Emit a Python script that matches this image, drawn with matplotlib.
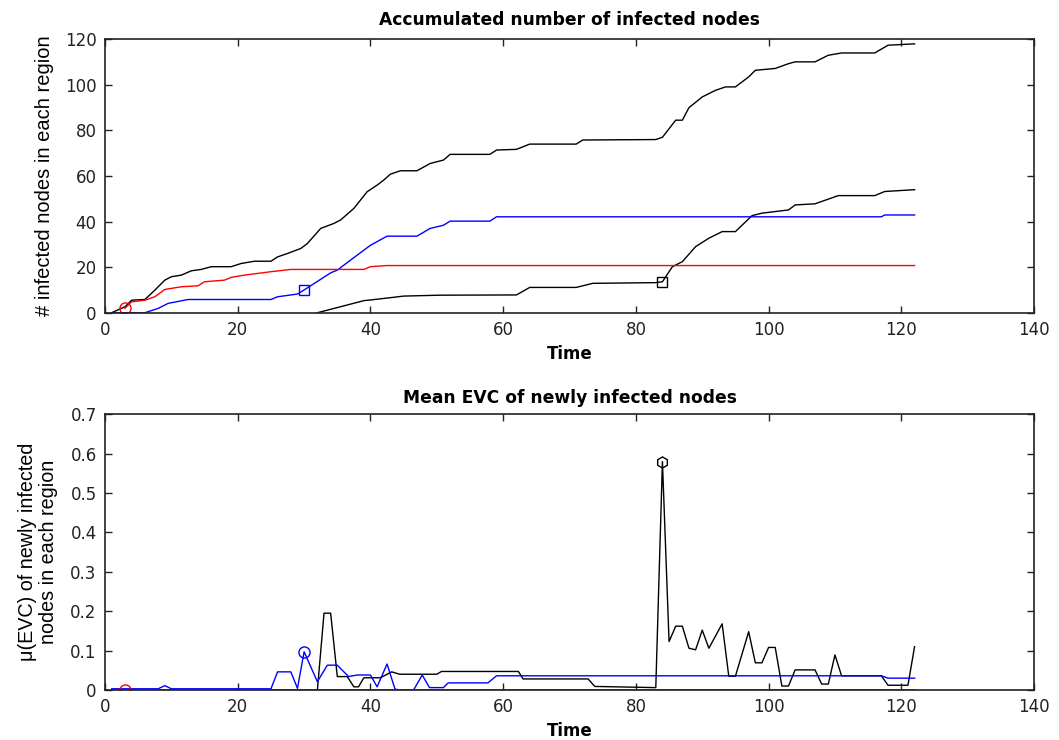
import matplotlib
matplotlib.use("Agg")
import matplotlib.pyplot as plt

# accumulated infected nodes (top panel)
t_total = [1, 3, 4, 6, 7.5, 9, 10, 11.5, 13, 14.5, 16, 19, 20.5, 22.5, 25, 26, 27.5, 29.5, 30.5, 32.5,
           34.5, 35.5, 37.5, 39.5, 41, 42, 43, 44.5, 47, 49, 51, 52, 58, 59, 62, 64, 71, 72, 83, 84,
           86, 87, 88, 90, 92, 93.5, 95, 97, 98, 101, 103, 104, 107, 109, 111, 116, 118, 122]
n_total = [0, 2.6, 5.5, 5.8, 9.9, 14.3, 15.8, 16.5, 18.4, 19, 20.2, 20.2, 21.6, 22.6, 22.6, 24.5, 26, 28.2, 30.4, 37,
           39.2, 40.7, 45.8, 53.1, 56, 58.2, 60.8, 62.3, 62.3, 65.5, 67, 69.5, 69.5, 71.4, 71.7, 74, 74, 75.8, 76, 77,
           84.5, 84.5, 90, 94.7, 97.6, 99.1, 99.1, 103.5, 106.4, 107.2, 109.3, 110.1, 110.1, 113, 114, 114, 117.4, 118]

t_black = [32, 34, 36.5, 39, 40, 43, 45, 50.5, 62, 64, 71, 73.5, 83, 84, 85.5, 87, 89, 91, 93, 95,
           97.5, 99, 103, 104, 107, 110.5, 116, 117.5, 122]
n_black = [0, 1.5, 3.4, 5.3, 5.6, 6.6, 7.3, 7.7, 7.8, 11.1, 11.1, 12.9, 13.2, 13.6, 20.2, 22.4, 29, 32.7, 35.6, 35.6,
           42.6, 43.7, 45.1, 47.3, 47.8, 51.4, 51.4, 53.2, 54]

t_blue = [1, 6, 8, 9.5, 12.5, 25, 26, 29, 30, 31.5, 34, 35, 37, 40, 42.5, 47, 49, 51, 52, 58, 59, 117, 117.5, 122]
n_blue = [0, 0, 1.9, 4.1, 5.8, 5.8, 7, 8.2, 10, 12.8, 17.5, 18.7, 23.1, 29.6, 33.6, 33.6, 37, 38.4, 40.2, 40.2,
          42.1, 42.1, 42.9, 42.9]

t_red = [3, 4, 6, 7.5, 9, 11.5, 14, 15, 18, 19, 21, 25, 28, 39, 40, 42.5, 122]
n_red = [2, 4.8, 5.5, 7, 10.2, 11.4, 11.8, 13.6, 14.3, 15.5, 16.5, 18, 19, 19, 20.2, 20.7, 20.7]

# mean EVC of newly infected nodes (bottom panel)
te_red = [3, 122]
evc_red = [0, 0]

te_blue = [1, 8, 9, 10, 25, 26, 28, 29, 30, 32, 33.5, 35, 36.7, 38, 40, 41, 42.5, 43.7, 44.5, 46.5,
           47.8, 48.9, 51, 51.7, 57.7, 59, 117, 118, 122]
evc_blue = [0.003, 0.003, 0.011, 0.003, 0.003, 0.046, 0.046, 0.004, 0.097, 0.021, 0.063, 0.063, 0.034, 0.038,
            0.038, 0.008, 0.066, 0.002, 0, 0, 0.038, 0.006, 0.006, 0.018, 0.018, 0.036, 0.036, 0.030, 0.030]

te_black = [1, 32, 33, 34, 35, 36.5, 37.5, 38.2, 39, 41.5, 43.2, 44.4, 50, 50.7, 62.3, 63, 72.8, 73.8, 83, 84,
            85, 86, 87, 88, 89, 90, 91, 93, 94, 95, 97, 98, 99, 100, 101, 102, 103, 104, 107, 108,
            109, 110, 111, 117, 118, 121, 122]
evc_black = [0, 0, 0.195, 0.195, 0.034, 0.034, 0.008, 0.008, 0.031, 0.031, 0.046, 0.04, 0.04, 0.047, 0.047, 0.028,
             0.028, 0.009, 0.006, 0.58, 0.123, 0.162, 0.162, 0.106, 0.102, 0.152, 0.106, 0.168, 0.035, 0.035,
             0.148, 0.069, 0.069, 0.108, 0.108, 0.010, 0.010, 0.051, 0.051, 0.015, 0.015, 0.089, 0.036, 0.036,
             0.012, 0.012, 0.110]

plt.rcParams['font.family'] = 'DejaVu Sans'

fig = plt.figure(figsize=(10.59, 7.40), dpi=100)
ax1 = fig.add_axes([0.0992, 0.5774, 0.8772, 0.3695])
ax2 = fig.add_axes([0.0992, 0.0676, 0.8772, 0.3725])

lw = 1.0
ax1.plot(t_total, n_total, color='black', lw=lw)
ax1.plot(t_black, n_black, color='black', lw=lw, marker='s', markevery=[13], ms=7, mfc='none', mew=1.0)
ax1.plot(t_blue, n_blue, color='blue', lw=lw, marker='s', markevery=[8], ms=7, mfc='none', mew=1.0)
ax1.plot(t_red, n_red, color='red', lw=lw, marker='o', markevery=[0], ms=8, mfc='none', mew=1.0)

ax2.plot(te_black, evc_black, color='black', lw=lw, marker='h', markevery=[19], ms=8, mfc='none', mew=1.0)
ax2.plot(te_blue, evc_blue, color='blue', lw=lw, marker='o', markevery=[8], ms=8, mfc='none', mew=1.0)
ax2.plot(te_red, evc_red, color='red', lw=1.3, marker='o', markevery=[0], ms=8, mfc='none', mew=1.0)

ax1.set_xlim(0, 140)
ax1.set_ylim(0, 120)
ax2.set_xlim(0, 140)
ax2.set_ylim(0, 0.7)
ax2.set_yticks([0, 0.1, 0.2, 0.3, 0.4, 0.5, 0.6, 0.7])
ax2.set_yticklabels(['0', '0.1', '0.2', '0.3', '0.4', '0.5', '0.6', '0.7'])

ax1.set_title('Accumulated number of infected nodes', fontsize=12.3, fontweight='bold', pad=10)
ax2.set_title('Mean EVC of newly infected nodes', fontsize=12.3, fontweight='bold', pad=8)
for ax in (ax1, ax2):
    ax.set_xlabel('Time', fontsize=12, fontweight='bold', labelpad=4)
    ax.tick_params(direction='in', top=True, right=True, length=5, width=1.0, labelsize=12, pad=6,
                   colors='#222222')
    for s in ax.spines.values():
        s.set_linewidth(1.2)
        s.set_color('#222222')

ax1.set_ylabel('# infected nodes in each region', fontsize=14.5, family='Liberation Sans', labelpad=8)
ax2.set_ylabel('\u03bc(EVC) of newly infected\nnodes in each region', fontsize=14.2,
               family='Liberation Sans', labelpad=9, linespacing=1.1)

fig.savefig('out.png', dpi=100)
